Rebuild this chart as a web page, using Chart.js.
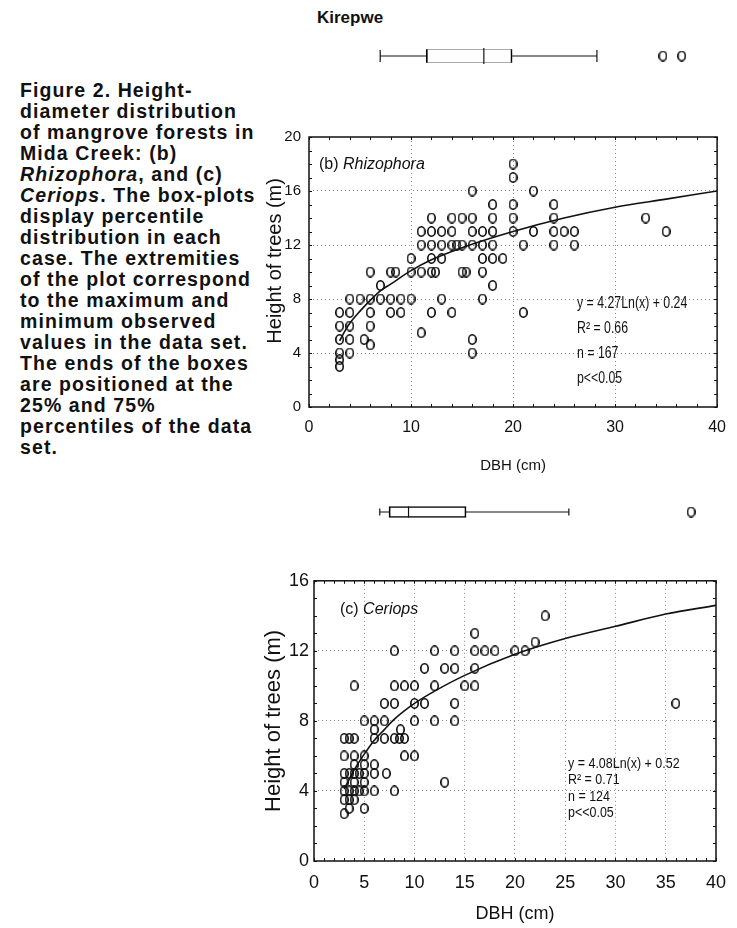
<!DOCTYPE html>
<html>
<head>
<meta charset="utf-8">
<script src="https://cdn.jsdelivr.net/npm/chart.js@4.4.1/dist/chart.umd.min.js"></script>
<style>
  html, body { margin: 0; padding: 0; background: #fff; }
  body { width: 737px; height: 928px; position: relative; overflow: hidden;
         font-family: "Liberation Sans", Arial, sans-serif; color: #111; }
  canvas, .txt { position: absolute; }
  .txt { white-space: nowrap; }
  .squeeze { transform-origin: 0 0; }
  #caption { left: 20px; top: 80px; font-weight: bold; font-size: 19.5px; line-height: 21px; letter-spacing: 1.1px; }
  #title { left: 317px; top: 7px; font-weight: bold; font-size: 17px; line-height: 22px; }
  #labB { left: 319px; top: 154px; font-size: 16px; line-height: 20px; }
  #labC { left: 340px; top: 599px; font-size: 16px; line-height: 20px; }
  #statB { left: 577px; top: 289.5px; font-size: 16px; line-height: 25px; transform: scaleX(0.77); }
  #statC { left: 568px; top: 754.5px; font-size: 14.5px; line-height: 16.5px; transform: scaleX(0.86); }
</style>
</head>
<body>
<div id="caption" class="txt">Figure 2. Height-<br>diameter distribution<br>of mangrove forests in<br>Mida Creek: (b)<br><i>Rhizophora</i>, and (c)<br><i>Ceriops</i>. The box-plots<br>display percentile<br>distribution in each<br>case. The extremities<br>of the plot correspond<br>to the maximum and<br>minimum observed<br>values in the data set.<br>The ends of the boxes<br>are positioned at the<br>25% and 75%<br>percentiles of the data<br>set.</div>
<div id="title" class="txt">Kirepwe</div>

<canvas id="boxB" width="487" height="32" style="left:250px;top:40px;width:487px;height:32px"></canvas>
<canvas id="plotB" width="487" height="360" style="left:250px;top:120px;width:487px;height:360px"></canvas>
<canvas id="boxC" width="482" height="32" style="left:255px;top:496px;width:482px;height:32px"></canvas>
<canvas id="plotC" width="482" height="363" style="left:255px;top:565px;width:482px;height:363px"></canvas>

<div id="labB" class="txt">(b) <i>Rhizophora</i></div>
<div id="statB" class="txt squeeze">y = 4.27Ln(x) + 0.24<br>R² = 0.66<br>n = 167<br>p&lt;&lt;0.05</div>
<div id="labC" class="txt">(c) <i>Ceriops</i></div>
<div id="statC" class="txt squeeze">y = 4.08Ln(x) + 0.52<br>R² = 0.71<br>n = 124<br>p&lt;&lt;0.05</div>

<script>
// (b) Rhizophora - DBH (cm) and height (m) of each tree
const rhizoDbh = [3,3,3,3,3,3, 4,4,4,4,4, 5,5.4, 6,6,6,6,6, 7,7, 8,8,8, 8.5, 9,9,
  10,10,10, 11,11,11,11, 12,12,12,12,12,12, 12.4, 13,13,13,13, 14,14,14,14, 14.5,
  15,15,15, 15.4, 16,16,16,16,16,16, 17,17,17,17,17, 18,18,18,18,18,18, 19,
  20,20,20,20,20, 21,21, 22,22, 24,24,24,24, 25, 26,26, 33, 35];
const rhizoHeight = [7,6,5,4,3.5,3, 8,7,6,5,4, 8,5, 10,8,7,6,4.6, 9,8, 10,8,7, 10, 8,7,
  11,10,8, 13,12,10,5.5, 14,13,12,11,10,7, 10, 13,12,11,8, 14,13,12,7, 12,
  14,12,10, 10, 16,14,13,12,5,4, 13,12,11,10,8, 15,14,13,12,11,9, 11,
  18,17,15,14,13, 12,7, 16,13, 15,14,13,12, 13, 13,12, 14, 13];
// fitted curve
const rhizoFitDbh = [3, 3.5, 4, 5, 6, 7, 8, 10, 12, 15, 20, 25, 30, 35, 40];
const rhizoFitHeight = [4.9, 5.6, 6.2, 7.1, 7.9, 8.6, 9.1, 10.1, 10.9, 11.8, 13.0, 14.0, 14.8, 15.4, 16.0];
// box plot: min, q1, median, q3, max
const rhizoBox = [6.8, 11.2, 16.7, 19.4, 27.5];
const rhizoOutliers = [33.8, 35.6];

// (c) Ceriops
const ceriDbh = [3,3.5,4, 3,4,5, 4,5,6, 3,3.5,4,4.5,5,6,7.2, 3,4,5, 3,3.5,4,4.5,5,6,8,
  3,3.5,4, 3.5,5, 3, 4, 5,6,7,6, 6,7,8,8.5,9,8.6, 7,8,8,9,10, 9,10, 10,11,10, 8,
  11,12,12, 13,14,14,14, 12,14, 15,16,16,16,16,17,18, 20,21,22,23, 13, 36];
const ceriHeight = [7,7,7, 6,6,6, 5.5,5.5,5.5, 5,5,5,5,5,5,5, 4.5,4.5,4.5, 4,4,4,4,4,4,4,
  3.5,3.5,3.5, 3,3, 2.7, 10, 8,8,8,7.5, 7,7,7,7,7,7.5, 9,9,10,10,10, 6,6, 9,9,8, 12,
  11,10,8, 11,11,9,8, 12,12, 10,10,11,12,13,12,12, 12,12,12.5,14, 4.5, 9];
const ceriFitDbh = [3, 4, 5, 6, 7, 8, 10, 12, 15, 20, 25, 30, 35, 40];
const ceriFitHeight = [4.1, 5.2, 6.1, 6.9, 7.5, 8.1, 9.0, 9.7, 10.6, 11.8, 12.7, 13.4, 14.1, 14.6];
const ceriBox = [6.4, 7.3, 9.2, 14.8, 24.8];
const ceriOutliers = [36.7];

const FONT = '"Liberation Sans", Arial, sans-serif';
const INK = '#111';

// open "0"-like marker used in the original
function ringMarker(w, h, lw) {
    const c = document.createElement('canvas');
    c.width = w; c.height = h;
    const g = c.getContext('2d');
    g.strokeStyle = '#000';
    g.lineWidth = lw;
    g.beginPath();
    g.ellipse(w / 2, h / 2, w / 2 - lw / 2, h / 2 - lw / 2, 0, 0, Math.PI * 2);
    g.stroke();
    return c;
}
const ring = ringMarker(9, 11, 1.6);

const toPoints = (xs, ys) => xs.map((x, i) => ({ x: x, y: ys[i] }));

// frame with inward tick marks, like the original plots
const framePlugin = {
    id: 'frame',
    afterDraw(chart, args, opts) {
        if (!opts || !opts.on) return;
        const { ctx, chartArea: a, scales: { x, y } } = chart;
        ctx.save();
        ctx.strokeStyle = INK;
        ctx.lineWidth = 1;
        ctx.beginPath();
        x.ticks.forEach(t => {
            const p = Math.round(x.getPixelForValue(t.value)) + 0.5;
            ctx.moveTo(p, a.bottom); ctx.lineTo(p, a.bottom - opts.len);
            ctx.moveTo(p, a.top); ctx.lineTo(p, a.top + opts.len);
        });
        y.ticks.forEach(t => {
            const p = Math.round(y.getPixelForValue(t.value)) + 0.5;
            ctx.moveTo(a.left, p); ctx.lineTo(a.left + opts.len, p);
            ctx.moveTo(a.right, p); ctx.lineTo(a.right - opts.len, p);
        });
        ctx.stroke();
        ctx.lineWidth = 1.5;
        ctx.strokeRect(a.left, a.top, a.right - a.left, a.bottom - a.top);
        ctx.restore();
    }
};
Chart.register(framePlugin);

function scatterChart(id, s) {
    return new Chart(document.getElementById(id), {
        type: 'scatter',
        data: {
            datasets: [
                {
                    type: 'line',
                    data: toPoints(s.fitX, s.fitY),
                    borderColor: INK,
                    borderWidth: 1.6,
                    pointRadius: 0,
                    cubicInterpolationMode: 'monotone',
                    fill: false
                },
                {
                    data: toPoints(s.xs, s.ys),
                    pointStyle: ring,
                    pointRadius: 5,
                    pointHoverRadius: 5
                }
            ]
        },
        options: {
            responsive: false,
            animation: false,
            events: [],
            layout: { padding: s.pad },
            plugins: {
                legend: { display: false },
                tooltip: { enabled: false },
                frame: { on: true, len: 3 }
            },
            scales: {
                x: {
                    type: 'linear', min: 0, max: 40,
                    afterFit: sc => { sc.height = s.xHeight; },
                    grid: {
                        drawTicks: false,
                        color: c => s.xGrid.includes(c.tick.value) ? '#8c8c8c' : 'rgba(0,0,0,0)'
                    },
                    border: { display: false, dash: [1, 3] },
                    ticks: {
                        stepSize: s.xStep, autoSkip: false, maxRotation: 0,
                        padding: s.xPad, color: INK,
                        font: { family: FONT, size: s.xFont },
                        callback: v => v % s.xLabelEvery === 0 ? v : ''
                    },
                    title: {
                        display: true, text: 'DBH (cm)', color: INK,
                        font: { family: FONT, size: s.xTitleFont },
                        padding: { top: 0, bottom: s.xTitlePad }
                    }
                },
                y: {
                    type: 'linear', min: 0, max: s.yMax,
                    afterFit: sc => { sc.width = s.yWidth; },
                    grid: {
                        drawTicks: false,
                        color: c => s.yGrid.includes(c.tick.value) ? '#8c8c8c' : 'rgba(0,0,0,0)'
                    },
                    border: { display: false, dash: [1, 3] },
                    ticks: {
                        stepSize: 1, autoSkip: false,
                        padding: s.yPad, color: INK,
                        font: { family: FONT, size: s.yFont },
                        callback: v => v % 4 === 0 ? v : ''
                    },
                    title: {
                        display: true, text: s.yTitle, color: INK,
                        font: { family: FONT, size: s.yTitleFont },
                        padding: { top: s.yTitlePad, bottom: 0 }
                    }
                }
            }
        }
    });
}

function boxChart(id, box, outliers, b) {
    const at = v => ({ x: v, y: 'box' });
    return new Chart(document.getElementById(id), {
        type: 'bar',
        data: {
            labels: ['box'],
            datasets: [
                // median
                { type: 'scatter', data: [at(box[2])], pointStyle: 'line', rotation: 90,
                  pointRadius: b.boxH / 2, borderColor: INK, borderWidth: 1.2 },
                // whiskers with end caps
                { type: 'line', data: [at(box[0]), at(box[1])], pointStyle: 'line', rotation: 90,
                  pointRadius: [b.capH / 2, 0], borderColor: INK, borderWidth: 1.2 },
                { type: 'line', data: [at(box[3]), at(box[4])], pointStyle: 'line', rotation: 90,
                  pointRadius: [0, b.capH / 2], borderColor: INK, borderWidth: 1.2 },
                // outliers
                { type: 'scatter', data: outliers.map(at), pointStyle: ring, pointRadius: 5 },
                // the box itself, q1..q3
                { type: 'bar', data: [[box[1], box[3]]], backgroundColor: '#fff',
                  borderColor: '#000', borderWidth: 1.7, borderSkipped: false, barThickness: b.boxH }
            ]
        },
        options: {
            indexAxis: 'y',
            responsive: false,
            animation: false,
            events: [],
            layout: { padding: b.pad },
            plugins: { legend: { display: false }, tooltip: { enabled: false } },
            scales: {
                x: { type: 'linear', min: 0, max: 40, display: false },
                y: { type: 'category', labels: ['box'], display: false }
            }
        }
    });
}

boxChart('boxB', rhizoBox, rhizoOutliers, {
    boxH: 16, capH: 12, pad: { left: 59, right: 9, top: 0, bottom: 0 }
});
boxChart('boxC', ceriBox, ceriOutliers, {
    boxH: 11, capH: 7, pad: { left: 59, right: 12, top: 0, bottom: 0 }
});

scatterChart('plotB', {
    xs: rhizoDbh, ys: rhizoHeight, fitX: rhizoFitDbh, fitY: rhizoFitHeight,
    yMax: 20, xStep: 2, xLabelEvery: 10,
    xGrid: [10, 20, 30], yGrid: [4, 8, 12, 16],
    pad: { left: 0, right: 9, top: 16, bottom: 0 },
    yWidth: 59, xHeight: 73,
    xFont: 16, yFont: 15, xPad: 11, yPad: 8,
    xTitleFont: 15, xTitlePad: 5,
    // leading no-break spaces lift the title a little, as in the original
    yTitle: '\u00a0\u00a0\u00a0\u00a0Height of trees (m)', yTitleFont: 20, yTitlePad: 13
});

scatterChart('plotC', {
    xs: ceriDbh, ys: ceriHeight, fitX: ceriFitDbh, fitY: ceriFitHeight,
    yMax: 16, xStep: 1, xLabelEvery: 5,
    xGrid: [5, 10, 15, 20, 25, 30, 35], yGrid: [4, 8, 12],
    pad: { left: 0, right: 12, top: 14, bottom: 0 },
    yWidth: 59, xHeight: 67,
    xFont: 18, yFont: 18, xPad: 11, yPad: 5,
    xTitleFont: 18, xTitlePad: 3,
    yTitle: 'Height of trees (m)', yTitleFont: 22, yTitlePad: 6
});
</script>
</body>
</html>
